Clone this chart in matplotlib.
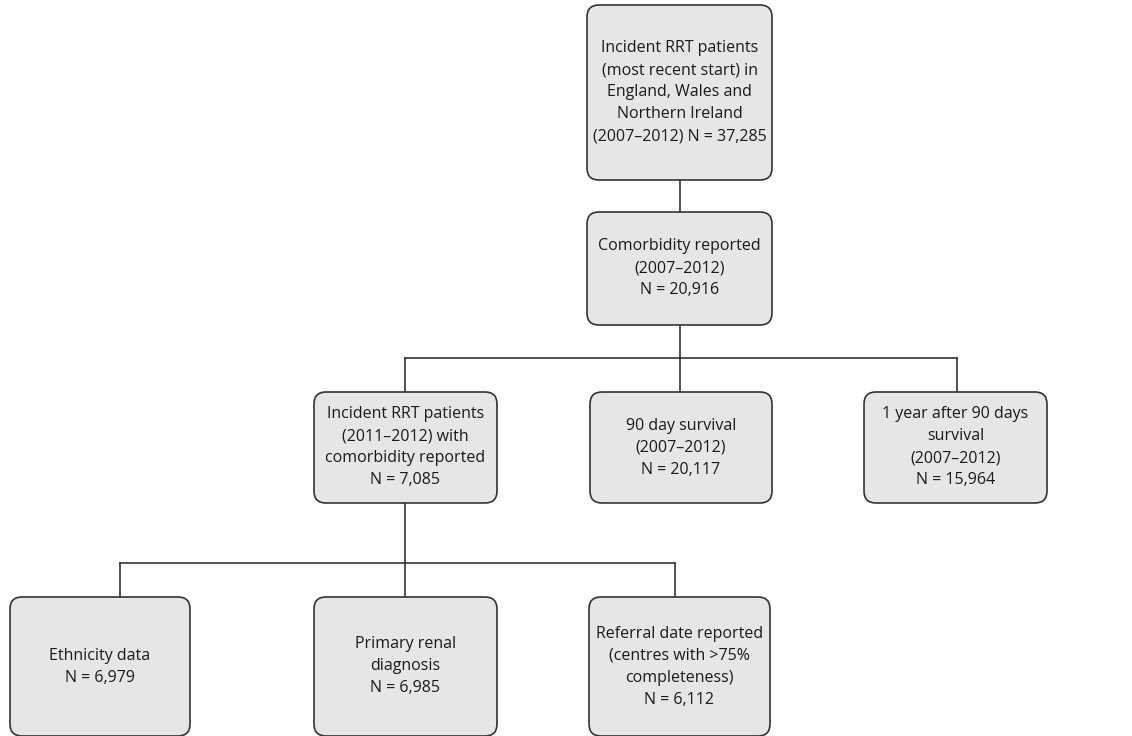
import matplotlib.pyplot as plt
from matplotlib.patches import FancyBboxPatch

# box texts
labels = [
    "Incident RRT patients\n(most recent start) in\nEngland, Wales and\nNorthern Ireland\n(2007\u20132012) N = 37,285",
    "Comorbidity reported\n(2007\u20132012)\nN = 20,916",
    "Incident RRT patients\n(2011\u20132012) with\ncomorbidity reported\nN = 7,085",
    "90 day survival\n(2007\u20132012)\nN = 20,117",
    "1 year after 90 days\nsurvival\n(2007\u20132012)\nN = 15,964",
    "Ethnicity data\nN = 6,979",
    "Primary renal\ndiagnosis\nN = 6,985",
    "Referral date reported\n(centres with >75%\ncompleteness)\nN = 6,112",
]
# layout in pixels: x0, y0, x1, y1
boxes = [
    (587, 5, 772, 180),
    (587, 212, 772, 325),
    (314, 392, 497, 503),
    (590, 392, 772, 503),
    (864, 392, 1047, 503),
    (10, 597, 190, 736),
    (314, 597, 497, 736),
    (589, 597, 770, 736),
]
lines = [
    [(680, 180), (680, 212)],
    [(680, 325), (680, 358)],
    [(405, 358), (957, 358)],
    [(405, 358), (405, 392)],
    [(680, 358), (680, 392)],
    [(957, 358), (957, 392)],
    [(405, 503), (405, 563)],
    [(120, 563), (675, 563)],
    [(120, 563), (120, 597)],
    [(405, 563), (405, 597)],
    [(675, 563), (675, 597)],
]

fig = plt.figure(figsize=(11.32, 7.36), dpi=100)
ax = fig.add_axes([0, 0, 1, 1])
ax.set_xlim(0, 1132)
ax.set_ylim(736, 0)
ax.axis('off')

for seg in lines:
    (x0, y0), (x1, y1) = seg
    ax.plot([x0, x1], [y0, y1], color='#333333', lw=1.2, zorder=1)

for (x0, y0, x1, y1), txt in zip(boxes, labels):
    p = FancyBboxPatch((x0 + 8, y0 + 8), x1 - x0 - 16, y1 - y0 - 16,
                       boxstyle="round,pad=8,rounding_size=12",
                       fc='#e6e6e6', ec='#333333', lw=1.2, zorder=2)
    ax.add_patch(p)
    ax.text((x0 + x1) / 2, (y0 + y1) / 2, txt, ha='center', va='center',
            fontsize=11.5, family='Open Sans', color='#1a1a1a',
            linespacing=1.5, zorder=3)

fig.savefig('out.png', dpi=100)
